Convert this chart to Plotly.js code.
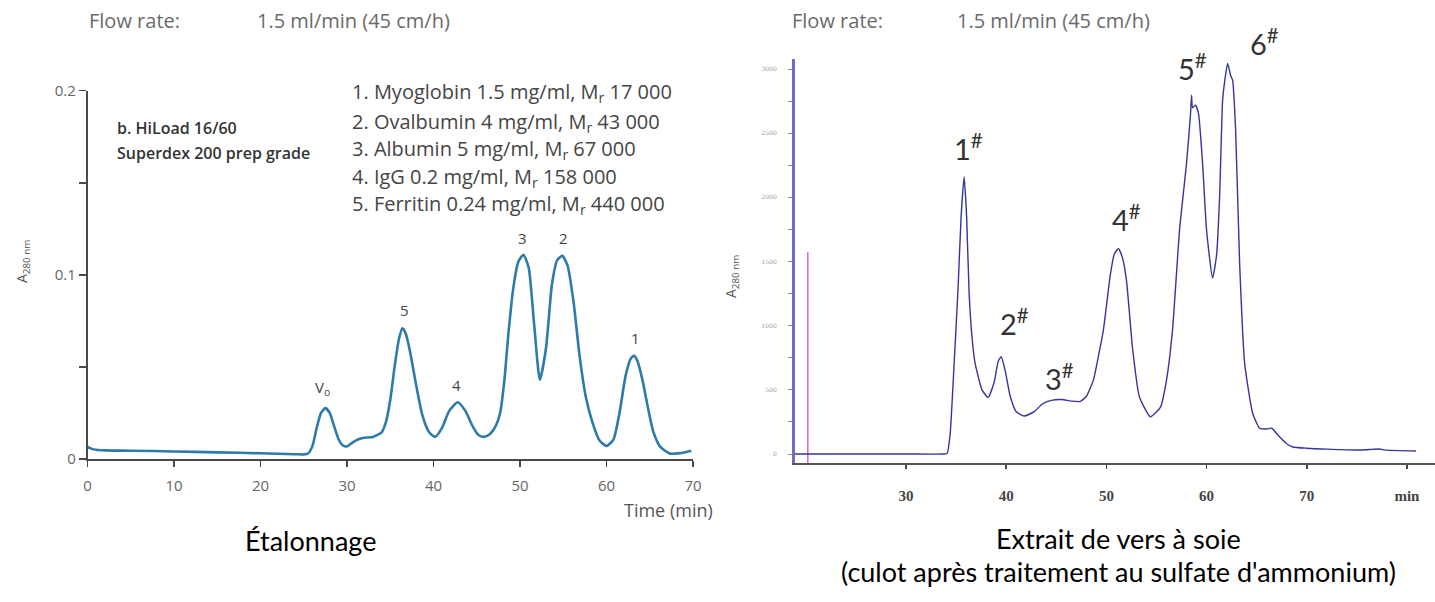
<!DOCTYPE html>
<html>
<head>
<meta charset="utf-8">
<script src="https://cdn.plot.ly/plotly-3.0.1.min.js"></script>
<style>html,body{margin:0;padding:0;background:#fff;}#chart{width:1435px;height:602px;}</style>
</head>
<body>
<div id="chart"></div>
<script>
// ---- Left chart: calibration (Superdex 200), time in min, A280
const calTime = [0,0.5,1,2,5,10,15,20,24,25,25.5,26,26.5,27,27.5,28,28.5,29,29.5,30,30.5,31,31.5,32,33,34,34.5,35,35.5,36,36.4,36.8,37.3,38,38.7,39.5,40.2,41,41.8,42.8,43.7,44.5,45.2,45.8,46.5,47.2,47.7,48.2,48.6,49.2,49.8,50.4,51,51.6,52.3,53,53.7,54.3,54.9,55.5,56.2,56.9,57.6,58.4,59.2,60,60.8,61.5,62.2,62.8,63.2,63.6,64.2,64.7,65.4,66.2,67.3,68.5,69.8];
const calAbs = [0.0065,0.0055,0.005,0.0047,0.0045,0.0041,0.0036,0.0031,0.0026,0.0025,0.003,0.007,0.017,0.025,0.0276,0.025,0.018,0.011,0.0075,0.0068,0.0085,0.010,0.011,0.0115,0.012,0.0145,0.020,0.032,0.050,0.065,0.071,0.068,0.058,0.040,0.024,0.0145,0.012,0.017,0.026,0.0308,0.026,0.018,0.013,0.012,0.0135,0.018,0.025,0.043,0.065,0.092,0.107,0.1109,0.104,0.075,0.043,0.060,0.095,0.108,0.1103,0.105,0.085,0.0556,0.034,0.0195,0.010,0.0071,0.0105,0.025,0.045,0.0545,0.056,0.053,0.042,0.030,0.015,0.0067,0.003,0.0032,0.0045];
const calXTicks = [0,10,20,30,40,50,60,70];
const calYTicks = [0,0.05,0.1,0.15,0.2];
const calYTickText = ['0','','0.1','','0.2'];
const calPeakNames = ['V<sub>o</sub>','5','4','3','2','1'];
const calPeakTime = [27.2,36.6,42.7,50.3,55.0,63.3];
const calPeakLabelY = [0.0386,0.081,0.040,0.120,0.120,0.0658];
const calStandards = [
  '1. Myoglobin 1.5 mg/ml, M<sub>r</sub> 17 000',
  '2. Ovalbumin 4 mg/ml, M<sub>r</sub> 43 000',
  '3. Albumin 5 mg/ml, M<sub>r</sub> 67 000',
  '4. IgG 0.2 mg/ml, M<sub>r</sub> 158 000',
  '5. Ferritin 0.24 mg/ml, M<sub>r</sub> 440 000'
];

// ---- Right chart: silkworm extract
const extTime = [18.9,25,30,33.8,34.1,34.4,34.8,35.2,35.5,35.8,36.05,36.3,36.6,36.9,37.6,38.2,38.8,39.2,39.5,39.9,40.4,41.0,41.8,42.8,43.6,44.5,45.5,46.5,47.4,48.0,48.7,49.3,49.7,50.0,50.4,50.8,51.2,51.6,52.0,52.3,52.6,53.3,54.4,55.4,56.0,56.6,57.3,58.0,58.4,58.5,58.6,58.9,59.2,59.6,60.0,60.6,61.0,61.3,61.6,61.8,62.1,62.4,62.6,62.9,63.3,63.8,64.6,65.3,66.0,66.5,67.3,68.0,68.6,70,72,75.4,76.5,77.2,78,80.9];
const extSignal = [0,0,0,0,5,150,700,1300,1850,2160,1850,1250,900,706,498,441,560,720,758,650,450,330,296,330,390,418,425,412,410,450,576,800,966,1150,1400,1560,1600,1530,1355,1100,833,444,290,366,576,966,1744,2266,2650,2796,2700,2718,2650,2266,1744,1371,1550,2004,2757,2900,3043,2950,2913,2523,1486,708,318,201,195,201,132,80,55,45,38,31,36,39,30,23];
const extXTicks = [30,40,50,60,70,80];
const extXTickText = ['30','40','50','60','70','min'];
const extYTicks = [0,250,500,750,1000,1250,1500,1750,2000,2250,2500,2750,3000];
const extYTickText = ['0','','500','','1000','','1500','','2000','','2500','','3000'];
const injectionTime = [20.2,20.2];
const injectionLevel = [-70,1573];
const extPeakNames = ['1<sup>#</sup>','2<sup>#</sup>','3<sup>#</sup>','4<sup>#</sup>','5<sup>#</sup>','6<sup>#</sup>'];
const extPeakTime = [36.2,40.8,45.3,52.0,58.6,65.8];
const extPeakLabelY = [2391,1028,600,1838,3014,3209];

// pixel -> paper helpers for layout text
const W = 1435, H = 602;
const px = x => x / W;
const py = y => 1 - y / H;

const extYRange = [-70, 3078];
const extYDomain = [py(463), py(59)];
const extToPaper = v => extYDomain[0] + (v - extYRange[0]) / (extYRange[1] - extYRange[0]) * (extYDomain[1] - extYDomain[0]);

const traces = [
  {x: calTime, y: calAbs, xaxis: 'x', yaxis: 'y', mode: 'lines',
   line: {color: '#2c7ba8', width: 2.6, shape: 'spline', smoothing: 0.6}, hoverinfo: 'skip'},
  {x: injectionTime, y: injectionLevel, xaxis: 'x2', yaxis: 'y2', mode: 'lines',
   line: {color: '#e060c8', width: 1.5}, hoverinfo: 'skip'},
  {x: extTime, y: extSignal, xaxis: 'x2', yaxis: 'y2', mode: 'lines',
   line: {color: '#35359a', width: 1.4, shape: 'spline', smoothing: 0.5}, hoverinfo: 'skip'}
];

const annotations = [];
const txt = (text, x, y, opts) => annotations.push(Object.assign({
  text, x, y, xref: 'paper', yref: 'paper', showarrow: false,
  xanchor: 'left', yanchor: 'middle'
}, opts));

const hdrFont = {family: 'Open Sans', size: 20, color: '#6a6a6a'};
// flow-rate header
txt('Flow rate:', px(87), py(21), {font: hdrFont});
txt('1.5 ml/min (45 cm/h)', px(255), py(21), {font: hdrFont});
txt('Flow rate:', px(790), py(21), {font: hdrFont});
txt('1.5 ml/min (45 cm/h)', px(955), py(21), {font: hdrFont});

// column info
txt('b. HiLoad 16/60', px(115), py(128), {font: {family: 'Open Sans', size: 16, color: '#333', weight: 600}});
txt('Superdex 200 prep grade', px(115), py(153), {font: {family: 'Open Sans', size: 16, color: '#333', weight: 600}});
const stdY = [93, 122, 150, 177, 204];
calStandards.forEach((s, i) => txt(s, px(350), py(stdY[i]), {font: {family: 'Open Sans', size: 20, color: '#454545'}}));

// axis titles
txt('Time (min)', px(715), py(510), {xanchor: 'right', font: {family: 'Open Sans', size: 18, color: '#555'}});
txt('A<sub>280 nm</sub>', px(22), py(262), {xanchor: 'center', textangle: -90, font: {family: 'Open Sans', size: 14, color: '#555'}});
txt('A<sub>280 nm</sub>', px(731), py(276), {xanchor: 'center', textangle: -90, font: {family: 'Open Sans', size: 14, color: '#555'}});

// captions
const capFont = {family: 'Lato', size: 27, color: '#000'};
txt('Étalonnage', px(310), py(540), {xanchor: 'center', font: capFont});
txt('Extrait de vers à soie', px(1118), py(538), {xanchor: 'center', font: capFont});
txt("(culot après traitement au sulfate d'ammonium)", px(1118), py(571), {xanchor: 'center', font: capFont});

// peak labels
calPeakNames.forEach((n, i) => annotations.push({text: n, x: calPeakTime[i], y: calPeakLabelY[i], xref: 'x', yref: 'y',
  xanchor: 'center', yanchor: 'middle', showarrow: false, font: {family: 'Open Sans', size: 15, color: '#444'}}));
extPeakNames.forEach((n, i) => annotations.push({text: n, x: extPeakTime[i], y: extToPaper(extPeakLabelY[i]), xref: 'x2', yref: 'paper',
  xanchor: 'center', yanchor: 'middle', showarrow: false, font: {family: 'Lato', size: 29, color: '#333'}}));

const layout = {
  width: W, height: H,
  margin: {l: 0, r: 0, t: 0, b: 0},
  paper_bgcolor: '#fff', plot_bgcolor: 'rgba(0,0,0,0)',
  showlegend: false,
  xaxis: {domain: [px(87.5), px(693)], range: [0, 70], anchor: 'y',
    showline: true, linecolor: '#4a4a4a', linewidth: 1.6, showgrid: false, zeroline: false,
    ticks: 'outside', ticklen: 6, tickwidth: 1.5, tickcolor: '#4a4a4a',
    tickvals: calXTicks, tickfont: {family: 'Open Sans', size: 15, color: '#666'}, ticklabelstandoff: 6},
  yaxis: {domain: [py(459), py(90.7)], range: [0, 0.2], anchor: 'x',
    showline: true, linecolor: '#4a4a4a', linewidth: 1.6, showgrid: false, zeroline: false,
    ticks: 'outside', ticklen: 7, tickwidth: 1.5, tickcolor: '#4a4a4a',
    tickvals: calYTicks, ticktext: calYTickText, tickfont: {family: 'Open Sans', size: 15, color: '#666'}},
  xaxis2: {domain: [px(795), 1], range: [18.92, 82.8], anchor: 'y2',
    showline: true, linecolor: '#555', linewidth: 1.5, showgrid: false, zeroline: false,
    ticks: 'outside', ticklen: 4, tickwidth: 1.5, tickcolor: '#444',
    tickvals: extXTicks, ticktext: extXTickText,
    tickfont: {family: 'Liberation Serif', size: 15, color: '#444', weight: 'bold'}, ticklabelstandoff: 14},
  yaxis2: {domain: extYDomain, range: extYRange, anchor: 'x2',
    showline: true, linecolor: '#6e6ec4', linewidth: 3, showgrid: false, zeroline: false,
    ticks: 'outside', ticklen: 4, tickwidth: 1, tickcolor: '#888',
    tickvals: extYTicks, ticktext: extYTickText,
    tickfont: {family: 'DejaVu Serif', size: 6, color: '#999'}, ticklabelstandoff: 10},
  annotations
};

Plotly.newPlot('chart', traces, layout, {staticPlot: true, displayModeBar: false});
</script>
</body>
</html>
